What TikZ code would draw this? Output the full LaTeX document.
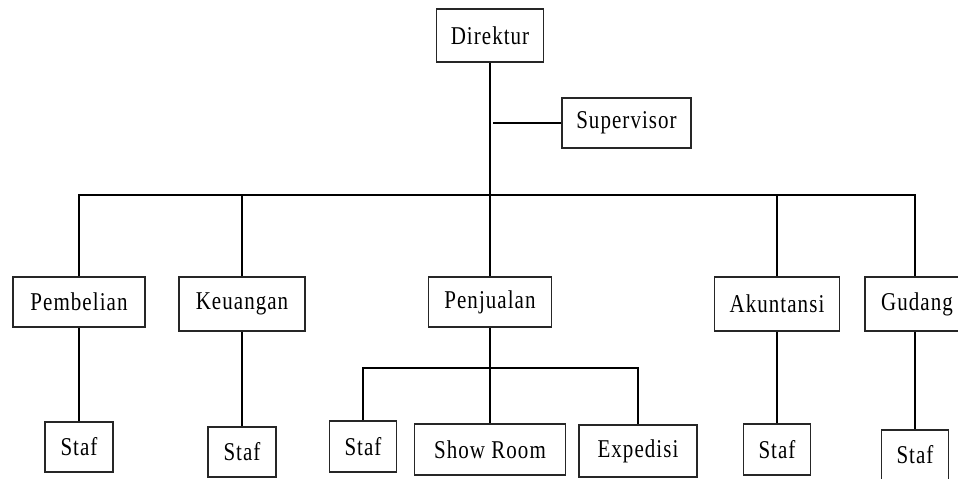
\documentclass[tikz,border=0pt]{standalone}
\usepackage{fontspec}
\setmainfont{Liberation Serif}[LetterSpace=5]
\usepackage{graphicx}
\newcommand{\lbl}[1]{\scalebox{1}[1.22]{#1}}
\begin{document}
\begin{tikzpicture}[x=1pt,y=-1pt,line width=1.3pt,
  box/.style={draw=black!85,inner sep=0pt,minimum height=#1,
    font=\fontsize{21}{24}\selectfont},
  box/.default=50pt]
\useasboundingbox (0,0) rectangle (958,479);
% level 0 / 1
\node[box=53pt,minimum width=107pt] (Direktur) at (490,35.5) {\lbl{Direktur}};
\node[box,minimum width=129pt] (Supervisor) at (626.5,123) {\lbl{Supervisor}};
% level 2
\node[box,minimum width=132pt] (Pembelian) at (79,302) {\lbl{Pembelian}};
\node[box=54pt,minimum width=126pt] (Keuangan) at (242,304) {\lbl{Keuangan}};
\node[box,minimum width=123pt] (Penjualan) at (490,302) {\lbl{Penjualan}};
\node[box=54pt,minimum width=125pt] (Akuntansi) at (777,304) {\lbl{Akuntansi}};
\node[box=54pt,minimum width=104pt] (Gudang) at (917,304) {\lbl{Gudang}};
% level 3
\node[box,minimum width=68pt] (Staf1) at (79,447) {\lbl{Staf}};
\node[box,minimum width=68pt] (Staf2) at (242,452) {\lbl{Staf}};
\node[box=51pt,minimum width=67pt] (Staf3) at (363,446.5) {\lbl{Staf}};
\node[box=51pt,minimum width=151pt] (ShowRoom) at (490,449.5) {\lbl{Show Room}};
\node[box=52pt,minimum width=118pt] (Expedisi) at (638,451) {\lbl{Expedisi}};
\node[box=51pt,minimum width=67pt] (Staf4) at (777,449.5) {\lbl{Staf}};
\node[box,minimum width=67pt] (Staf5) at (915,455) {\lbl{Staf}};
% connectors
\coordinate (bus) at (490,195);
\coordinate (gb) at (915,195);
\coordinate (sv) at (493,123);
\coordinate (pb) at (490,368);
\draw (Direktur.south) -- (Penjualan.north);
\draw (sv) -- (Supervisor.west);
\draw (Pembelian.north) |- (gb) -- (gb |- Gudang.north);
\draw (Keuangan.north) -- (Keuangan.north |- bus);
\draw (Akuntansi.north) -- (Akuntansi.north |- bus);
\draw (Pembelian.south) -- (Staf1.north);
\draw (Keuangan.south) -- (Staf2.north);
\draw (Penjualan.south) -- (ShowRoom.north);
\draw (Staf3.north) |- (pb) -| (Expedisi.north);
\draw (Akuntansi.south) -- (Staf4.north);
\draw (gb |- Gudang.south) -- (Staf5.north);
\end{tikzpicture}
\end{document}
